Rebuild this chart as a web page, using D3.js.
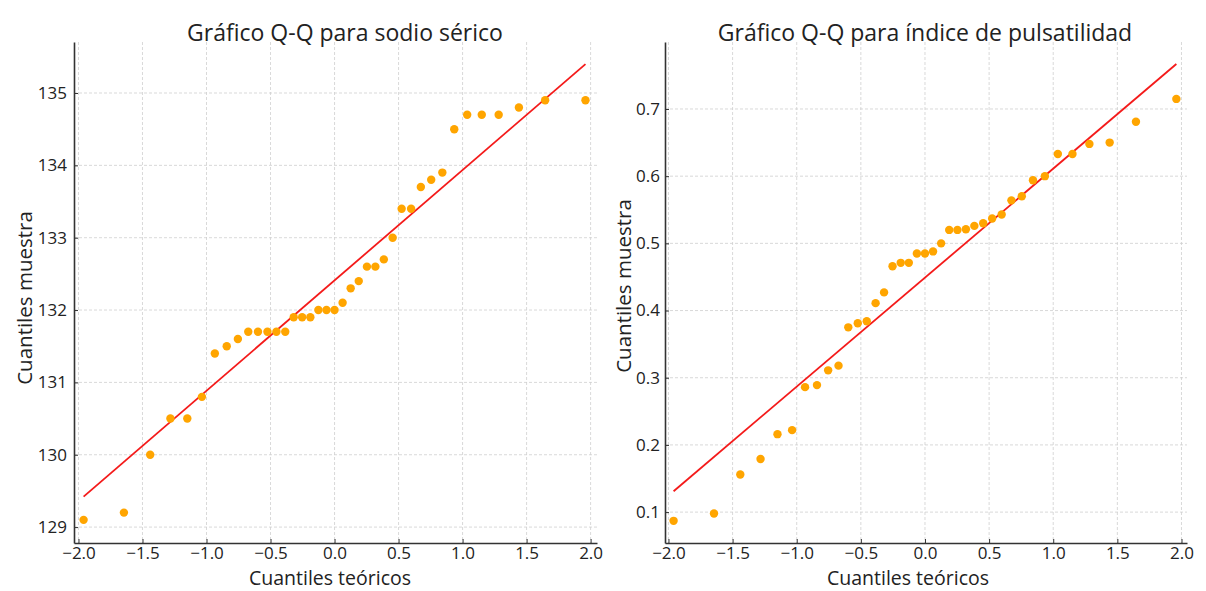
<!DOCTYPE html>
<html>
<head>
<meta charset="utf-8">
<script src="https://cdn.jsdelivr.net/npm/d3@7"></script>
<style>
  body { margin: 0; background: #fff; }
  text { font-family: "Open Sans", sans-serif; fill: #222; }
</style>
</head>
<body>
<script>
// theoretical quantiles (same for both panels)
var theoretical = [-1.960, -1.645, -1.440, -1.282, -1.150, -1.036, -0.935, -0.842, -0.755, -0.674,
  -0.598, -0.524, -0.454, -0.385, -0.319, -0.253, -0.189, -0.126, -0.063, 0.000,
  0.063, 0.126, 0.189, 0.253, 0.319, 0.385, 0.454, 0.524, 0.598, 0.674,
  0.755, 0.842, 0.935, 1.036, 1.150, 1.282, 1.440, 1.645, 1.960];

var sodio = [129.1, 129.2, 130.0, 130.5, 130.5, 130.8, 131.4, 131.5, 131.6, 131.7,
  131.7, 131.7, 131.7, 131.7, 131.9, 131.9, 131.9, 132.0, 132.0, 132.0,
  132.1, 132.3, 132.4, 132.6, 132.6, 132.7, 133.0, 133.4, 133.4, 133.7,
  133.8, 133.9, 134.5, 134.7, 134.7, 134.7, 134.8, 134.9, 134.9];

var pulsatilidad = [0.087, 0.098, 0.156, 0.179, 0.216, 0.222, 0.286, 0.289, 0.311, 0.318,
  0.375, 0.381, 0.384, 0.411, 0.427, 0.466, 0.471, 0.471, 0.485, 0.485,
  0.488, 0.500, 0.520, 0.520, 0.521, 0.526, 0.530, 0.537, 0.543, 0.564,
  0.570, 0.594, 0.600, 0.633, 0.633, 0.648, 0.650, 0.681, 0.715];

// reference lines (slope, intercept)
var sodioLine = [1.525, 132.41];
var pulsLine = [0.1622, 0.449];

var xTicks = [-2.0, -1.5, -1.0, -0.5, 0.0, 0.5, 1.0, 1.5, 2.0];
var sodioTicks = [129, 130, 131, 132, 133, 134, 135];
var pulsTicks = [0.1, 0.2, 0.3, 0.4, 0.5, 0.6, 0.7];

var svg = d3.select("body")
  .append("svg")
  .attr("width", 1206)
  .attr("height", 591);

function drawPanel(opts) {
  var g = svg.append("g")
    .attr("transform", `translate(${opts.left}, ${opts.top})`);

  var w = opts.width, h = opts.height;

  var x = d3.scaleLinear().domain(opts.xDomain).range([0, w]);
  var y = d3.scaleLinear().domain(opts.yDomain).range([h, 0]);

  // grid
  g.append("g").selectAll("line")
    .data(xTicks).enter().append("line")
    .attr("x1", d => x(d)).attr("x2", d => x(d))
    .attr("y1", 0).attr("y2", h)
    .attr("stroke", "#cfcfcf").attr("stroke-dasharray", "3,2").attr("stroke-width", 0.8);
  g.append("g").selectAll("line")
    .data(opts.yTicks).enter().append("line")
    .attr("x1", 0).attr("x2", w)
    .attr("y1", d => y(d)).attr("y2", d => y(d))
    .attr("stroke", "#cfcfcf").attr("stroke-dasharray", "3,2").attr("stroke-width", 0.8);

  // axes
  var xAxis = d3.axisBottom(x).tickValues(xTicks).tickFormat(d3.format(".1f"))
    .tickSizeInner(-4).tickSizeOuter(0).tickPadding(5);
  var yAxis = d3.axisLeft(y).tickValues(opts.yTicks).tickFormat(opts.yFormat)
    .tickSizeInner(-4).tickSizeOuter(0).tickPadding(opts.yPad);

  var gx = g.append("g").attr("transform", `translate(0, ${h})`).call(xAxis);
  var gy = g.append("g").call(yAxis);
  [gx, gy].forEach(function(a) {
    a.select(".domain").attr("stroke", "#333").attr("stroke-width", 1.6);
    a.selectAll(".tick line").attr("stroke", "#333");
    a.selectAll(".tick text").style("font-size", "17px").attr("fill", "#222");
  });
  gx.selectAll(".tick text").attr("dy", "0.62em");

  // red reference line
  var lx = [theoretical[0], theoretical[theoretical.length - 1]];
  g.append("line")
    .attr("x1", x(lx[0])).attr("y1", y(opts.line[0] * lx[0] + opts.line[1]))
    .attr("x2", x(lx[1])).attr("y2", y(opts.line[0] * lx[1] + opts.line[1]))
    .attr("stroke", "#f41a1a").attr("stroke-width", 1.8);

  // points
  g.selectAll(".pt")
    .data(opts.values).enter()
    .append("circle")
    .attr("class", "pt")
    .attr("cx", (d, i) => x(theoretical[i]))
    .attr("cy", d => y(d))
    .attr("r", 4.2)
    .attr("fill", "#ffa500");

  // labels
  svg.append("text")
    .attr("x", opts.titleX).attr("y", 41)
    .attr("text-anchor", "middle").style("font-size", "23px")
    .text(opts.title);
  svg.append("text")
    .attr("x", opts.xLabelX).attr("y", 585)
    .attr("text-anchor", "middle").style("font-size", "19.5px")
    .text("Cuantiles teóricos");
  svg.append("text")
    .attr("transform", `translate(${opts.yLabelX}, ${opts.yLabelY}) rotate(-90)`)
    .attr("text-anchor", "middle").style("font-size", "20.5px")
    .text("Cuantiles muestra");
}

drawPanel({
  left: 74, top: 42, width: 523, height: 501,
  xDomain: [-2.035, 2.05],
  yDomain: [128.78, 135.705], yTicks: sodioTicks, yFormat: d3.format("d"), yPad: 7,
  values: sodio, line: sodioLine,
  title: "Gráfico Q-Q para sodio sérico", titleX: 345,
  xLabelX: 330, yLabelX: 32, yLabelY: 298
});

drawPanel({
  left: 665, top: 42, width: 522, height: 501,
  xDomain: [-2.027, 2.043],
  yDomain: [0.054, 0.7997], yTicks: pulsTicks, yFormat: d3.format(".1f"), yPad: 5,
  values: pulsatilidad, line: pulsLine,
  title: "Gráfico Q-Q para índice de pulsatilidad", titleX: 925,
  xLabelX: 908, yLabelX: 631, yLabelY: 286
});
</script>
</body>
</html>
